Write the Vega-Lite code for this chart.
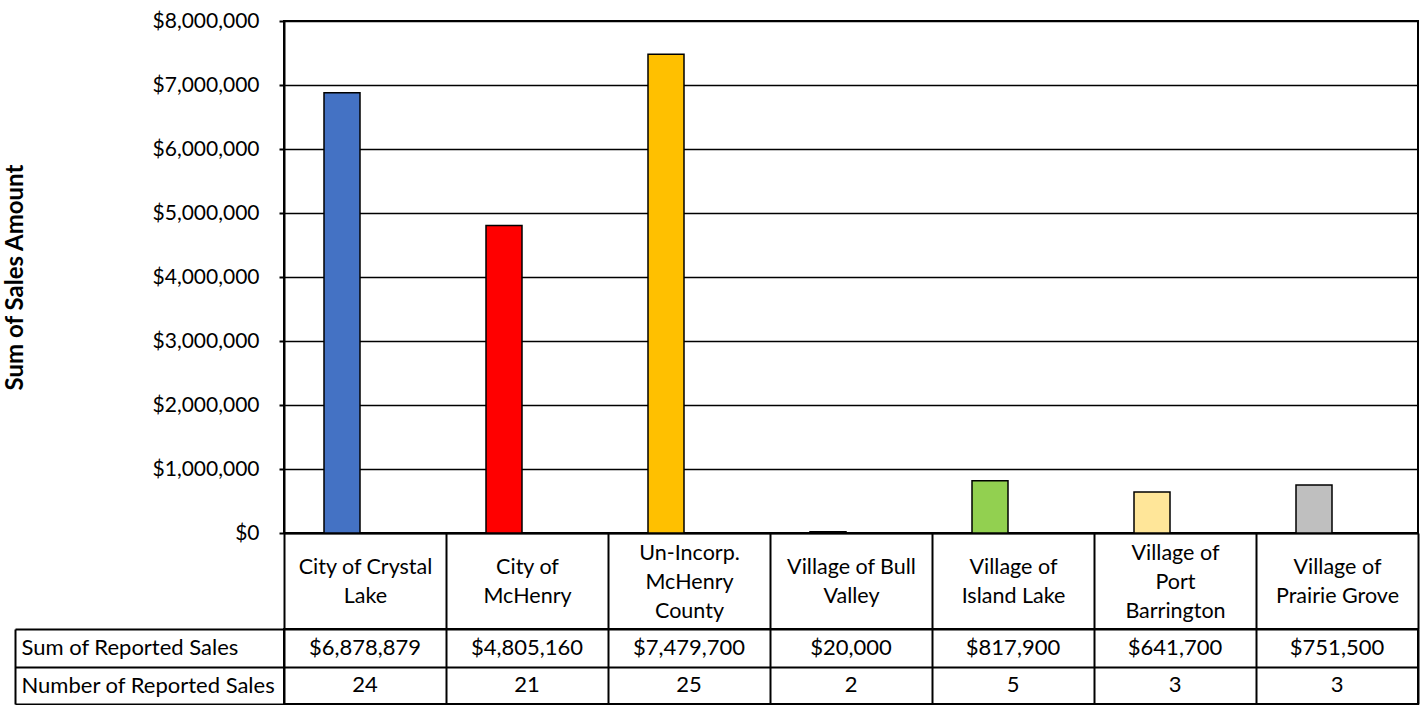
{
  "$schema": "https://vega.github.io/schema/vega-lite/v6.json",
  "padding": {"left": 2, "top": 9, "right": 0, "bottom": 0},
  "background": "white",
  "spacing": 96,
  "bounds": "flush",
  "config": {
    "font": "Lato",
    "axis": {"labelFont": "Lato", "titleFont": "Lato", "labelColor": "#000", "titleColor": "#000"}
  },
  "data": {
    "values": [
      {"cat": "City of Crystal\nLake", "sales": 6878879, "count": 24},
      {"cat": "City of\nMcHenry", "sales": 4805160, "count": 21},
      {"cat": "Un-Incorp.\nMcHenry\nCounty", "sales": 7479700, "count": 25},
      {"cat": "Village of Bull\nValley", "sales": 20000, "count": 2},
      {"cat": "Village of\nIsland Lake", "sales": 817900, "count": 5},
      {"cat": "Village of\nPort\nBarrington", "sales": 641700, "count": 3},
      {"cat": "Village of\nPrairie Grove", "sales": 751500, "count": 3}
    ]
  },
  "vconcat": [
    {
      "width": 1134,
      "height": 512,
      "view": {"stroke": "#000", "strokeWidth": 2},
      "mark": {"type": "bar", "width": 36, "xOffset": -23, "stroke": "#000", "strokeWidth": 1.5},
      "encoding": {
        "x": {
          "field": "cat", "type": "nominal", "sort": null,
          "scale": {"paddingInner": 0, "paddingOuter": 0},
          "axis": {
            "title": null, "labelAngle": 0,
            "labelExpr": "split(datum.label, '\\n')",
            "labelFontSize": 21.5, "labelLineHeight": 29, "labelBaseline": "middle",
            "labelPadding": {"condition": {"test": "length(split(datum.label, '\\n')) == 3", "value": -76}, "value": -62},
            "tickSize": 96, "tickBand": "extent",
            "tickColor": "#000", "tickWidth": 2, "domainColor": "#000", "domainWidth": 2,
            "labelOverlap": false, "labelBound": false, "labelLimit": 300
          }
        },
        "y": {
          "field": "sales", "type": "quantitative",
          "scale": {"domain": [0, 8000000], "nice": false},
          "axis": {
            "title": "Sum of Sales Amount",
            "values": [0, 1000000, 2000000, 3000000, 4000000, 5000000, 6000000, 7000000, 8000000],
            "format": "$,.0f", "labelFontSize": 21, "labelPadding": 20,
            "tickSize": 5, "tickColor": "#000", "tickWidth": 2,
            "domainColor": "#000", "domainWidth": 2,
            "grid": true, "gridColor": "#000", "gridWidth": 1.5,
            "titleFontSize": 24, "titleFontWeight": "bold", "titlePadding": 125
          }
        },
        "color": {
          "field": "cat", "type": "nominal", "sort": null,
          "scale": {"range": ["#4472C4", "#FF0000", "#FFC000", "#44546A", "#92D050", "#FFE699", "#BFBFBF"]},
          "legend": null
        }
      }
    },
    {
      "width": 1134,
      "height": 75,
      "view": {"stroke": "#000", "strokeWidth": 2},
      "encoding": {
        "x": {
          "field": "cat", "type": "nominal", "sort": null,
          "scale": {"paddingInner": 0, "paddingOuter": 0},
          "axis": {
            "title": null, "labels": false, "ticks": false, "domain": false,
            "grid": true, "tickBand": "extent", "gridColor": "#000", "gridWidth": 2
          }
        }
      },
      "layer": [
        {
          "mark": {"type": "text", "fontSize": 22, "font": "Lato", "color": "#000"},
          "encoding": {
            "y": {
              "datum": "Sum of Reported Sales", "type": "nominal",
              "scale": {"domain": ["Sum of Reported Sales", "Number of Reported Sales"], "paddingInner": 0, "paddingOuter": 0},
              "axis": {
                "title": null, "orient": "left", "offset": 269,
                "domainColor": "#000", "domainWidth": 2,
                "ticks": true, "tickSize": -269, "tickBand": "extent", "tickColor": "#000", "tickWidth": 2,
                "labelAlign": "left", "labelPadding": 263, "labelFontSize": 22, "labelLimit": 300,
                "grid": true, "gridColor": "#000", "gridWidth": 2
              }
            },
            "text": {"field": "sales", "type": "quantitative", "format": "$,.0f"}
          }
        },
        {
          "mark": {"type": "text", "fontSize": 22, "font": "Lato", "color": "#000"},
          "encoding": {
            "y": {"datum": "Number of Reported Sales", "type": "nominal"},
            "text": {"field": "count", "type": "quantitative"}
          }
        }
      ]
    }
  ]
}
